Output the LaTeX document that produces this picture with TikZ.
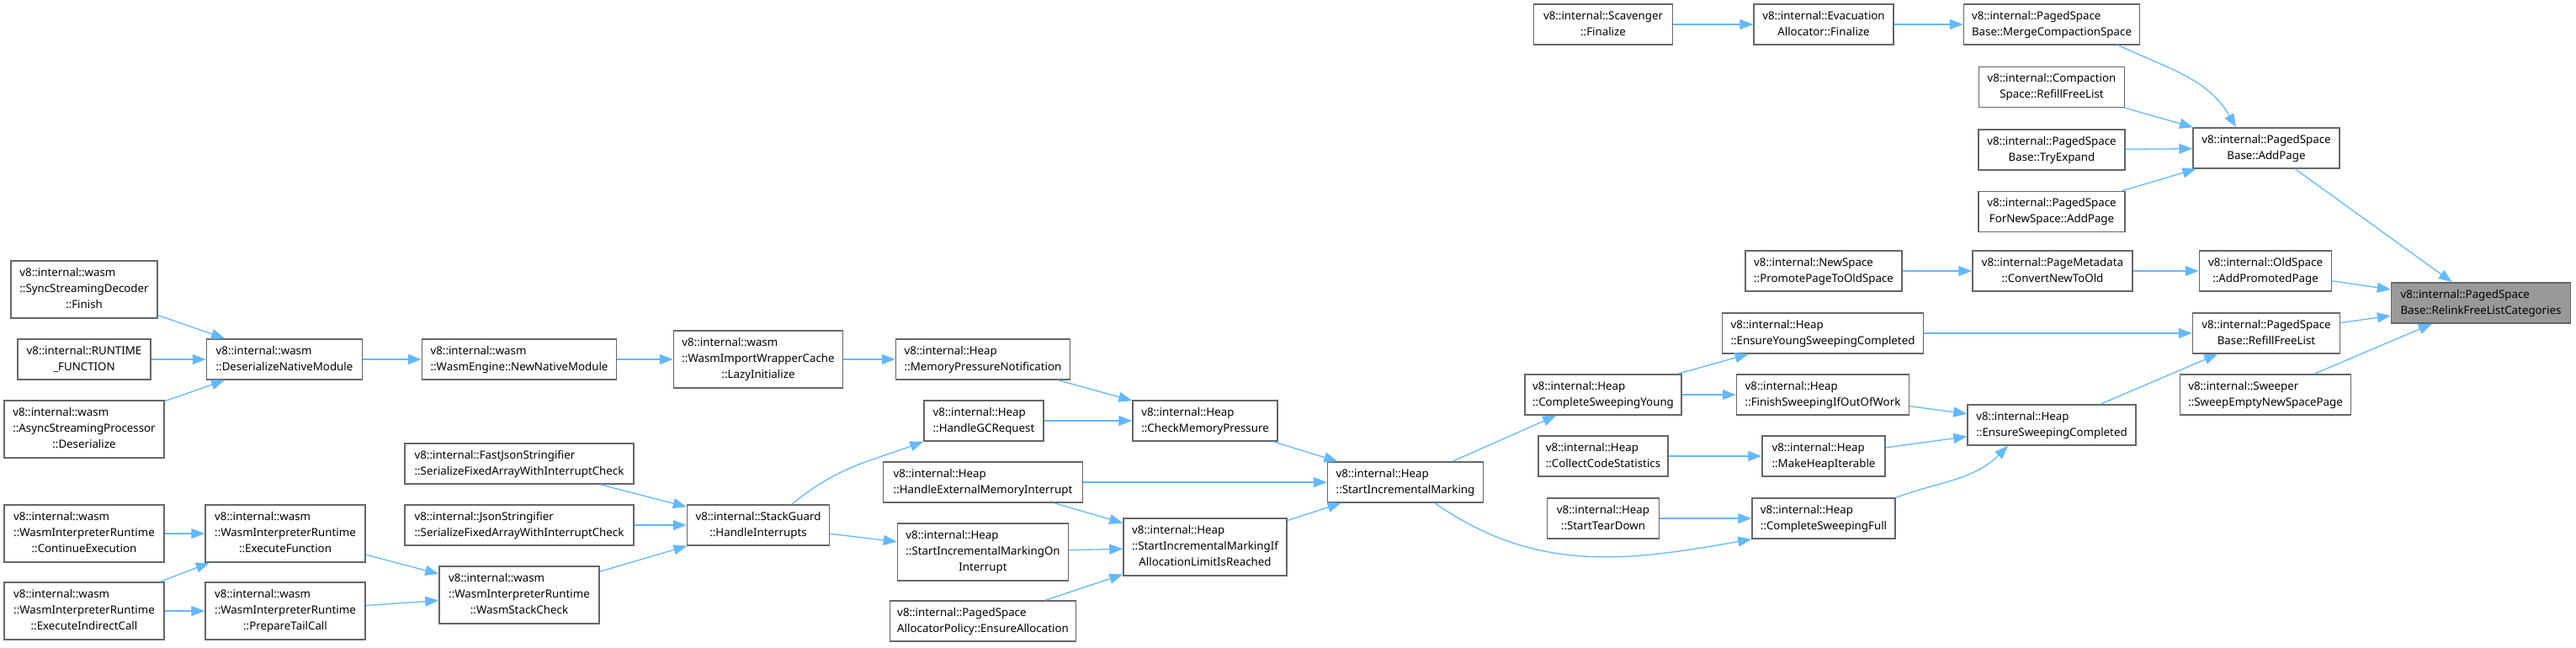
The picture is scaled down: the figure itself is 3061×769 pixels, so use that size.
\documentclass[tikz,border=0pt]{standalone}
\usepackage{fontspec}
\setmainfont{Noto Sans}
\usetikzlibrary{arrows.meta,positioning}
\definecolor{edgeblue}{HTML}{63B8FF}
\definecolor{boxgray}{HTML}{666666}
\definecolor{targetgray}{HTML}{999999}
\newcommand{\fnlines}[2]{\begin{tabular}{@{}l@{}}#1\\\multicolumn{1}{@{}c@{}}{#2}\end{tabular}}

\begin{document}
\begin{tikzpicture}[x=1pt, y=-1pt,
    box/.style={draw=boxgray, line width=1.5pt, fill=white, inner sep=3pt, font=\fontsize{13.3}{19}\selectfont, minimum height=48pt},
    func/.style={box, minimum width=#1},
    tall/.style={minimum height=68pt},
    target/.style={fill=targetgray},
    arrow/.style={-{Triangle[length=16pt,width=12pt]}, draw=edgeblue, line width=1.3pt}
  ]
    \useasboundingbox (0,0) rectangle (3061,769);
    % wasm callers
    \node[func=174, tall] (syncFinish) at (100,344) {\fnlines{v8::internal::wasm\\::SyncStreamingDecoder}{::Finish}};
    \node[func=158] (runtimeFunction) at (100,427) {\fnlines{v8::internal::RUNTIME}{\_FUNCTION}};
    \node[func=190, tall] (asyncDeserialize) at (100,510) {\fnlines{v8::internal::wasm\\::AsyncStreamingProcessor}{::Deserialize}};
    \node[func=185] (deserializeModule) at (338,427) {\fnlines{v8::internal::wasm}{::DeserializeNativeModule}};
    \node[func=231] (newNativeModule) at (617,427) {\fnlines{v8::internal::wasm}{::WasmEngine::NewNativeModule}};
    \node[func=201, tall] (lazyInitialize) at (901,427) {\fnlines{v8::internal::wasm\\::WasmImportWrapperCache}{::LazyInitialize}};
    \node[func=272] (fastJson) at (617,551) {\fnlines{v8::internal::FastJsonStringifier}{::SerializeFixedArrayWithInterruptCheck}};
    \node[func=272] (json) at (617,624) {\fnlines{v8::internal::JsonStringifier}{::SerializeFixedArrayWithInterruptCheck}};
    \node[func=169] (handleInterrupts) at (901,624) {\fnlines{v8::internal::StackGuard}{::HandleInterrupts}};
    \node[func=190, tall] (continueExecution) at (100,634) {\fnlines{v8::internal::wasm\\::WasmInterpreterRuntime}{::ContinueExecution}};
    \node[func=190, tall] (executeFunction) at (339,634) {\fnlines{v8::internal::wasm\\::WasmInterpreterRuntime}{::ExecuteFunction}};
    \node[func=190, tall] (executeIndirect) at (100,726) {\fnlines{v8::internal::wasm\\::WasmInterpreterRuntime}{::ExecuteIndirectCall}};
    \node[func=190, tall] (prepareTailCall) at (339,726) {\fnlines{v8::internal::wasm\\::WasmInterpreterRuntime}{::PrepareTailCall}};
    \node[func=190, tall] (wasmStackCheck) at (617,707) {\fnlines{v8::internal::wasm\\::WasmInterpreterRuntime}{::WasmStackCheck}};
    % heap
    \node[func=207] (memoryPressure) at (1168,427) {\fnlines{v8::internal::Heap}{::MemoryPressureNotification}};
    \node[func=142] (handleGC) at (1169,500) {\fnlines{v8::internal::Heap}{::HandleGCRequest}};
    \node[func=172] (checkMemory) at (1432,500) {\fnlines{v8::internal::Heap}{::CheckMemoryPressure}};
    \node[func=237] (externalMemory) at (1168,573) {\fnlines{v8::internal::Heap}{::HandleExternalMemoryInterrupt}};
    \node[func=203, tall] (markingOnInterrupt) at (1168,656) {\fnlines{v8::internal::Heap\\::StartIncrementalMarkingOn}{Interrupt}};
    \node[func=194, tall] (markingIfLimit) at (1432,650) {\fnlines{v8::internal::Heap\\::StartIncrementalMarkingIf}{AllocationLimitIsReached}};
    \node[func=221] (ensureAllocation) at (1168,738) {\fnlines{v8::internal::PagedSpace}{AllocatorPolicy::EnsureAllocation}};
    \node[func=185] (startMarking) at (1670,573) {\fnlines{v8::internal::Heap}{::StartIncrementalMarking}};
    \node[func=186] (sweepingYoung) at (1905,469) {\fnlines{v8::internal::Heap}{::CompleteSweepingYoung}};
    \node[func=154] (codeStatistics) at (1905,542) {\fnlines{v8::internal::Heap}{::CollectCodeStatistics}};
    \node[func=133] (tearDown) at (1905,616) {\fnlines{v8::internal::Heap}{::StartTearDown}};
    \node[func=239] (ensureYoung) at (2166,396) {\fnlines{v8::internal::Heap}{::EnsureYoungSweepingCompleted}};
    \node[func=205] (finishSweeping) at (2166,469) {\fnlines{v8::internal::Heap}{::FinishSweepingIfOutOfWork}};
    \node[func=146] (heapIterable) at (2167,542) {\fnlines{v8::internal::Heap}{::MakeHeapIterable}};
    \node[func=170] (sweepingFull) at (2167,616) {\fnlines{v8::internal::Heap}{::CompleteSweepingFull}};
    \node[func=200] (ensureSweeping) at (2438,505) {\fnlines{v8::internal::Heap}{::EnsureSweepingCompleted}};
    % paged space
    \node[func=186] (promotePage) at (2167,322) {\fnlines{v8::internal::NewSpace}{::PromotePageToOldSpace}};
    \node[func=190] (convertNewToOld) at (2439,322) {\fnlines{v8::internal::PageMetadata}{::ConvertNewToOld}};
    \node[func=157] (addPromoted) at (2692,322) {\fnlines{v8::internal::OldSpace}{::AddPromotedPage}};
    \node[func=175] (refillFreeList) at (2693,396) {\fnlines{v8::internal::PagedSpace}{Base::RefillFreeList}};
    \node[func=203] (sweepEmpty) at (2692,469) {\fnlines{v8::internal::Sweeper}{::SweepEmptyNewSpacePage}};
    \node[func=213, target] (relink) at (2948,360) {\fnlines{v8::internal::PagedSpace}{Base::RelinkFreeListCategories}};
    \node[func=165] (scavengerFinalize) at (1905,29) {\fnlines{v8::internal::Scavenger}{::Finalize}};
    \node[func=166] (evacuationFinalize) at (2167,29) {\fnlines{v8::internal::Evacuation}{Allocator::Finalize}};
    \node[func=209] (mergeCompaction) at (2438,29) {\fnlines{v8::internal::PagedSpace}{Base::MergeCompactionSpace}};
    \node[func=173, below=25pt of mergeCompaction] (compactionRefill) {\fnlines{v8::internal::Compaction}{Space::RefillFreeList}};
    \node[func=174, below=25pt of compactionRefill] (tryExpand) {\fnlines{v8::internal::PagedSpace}{Base::TryExpand}};
    \node[func=174, below=24pt of tryExpand] (newSpaceAddPage) {\fnlines{v8::internal::PagedSpace}{ForNewSpace::AddPage}};
    \node[func=174] (addPage) at (2693,176) {\fnlines{v8::internal::PagedSpace}{Base::AddPage}};
    % calls
    \draw[arrow] (syncFinish) -- (deserializeModule);
    \draw[arrow] (runtimeFunction) -- (deserializeModule);
    \draw[arrow] (asyncDeserialize) -- (deserializeModule);
    \draw[arrow] (deserializeModule) -- (newNativeModule);
    \draw[arrow] (newNativeModule) -- (lazyInitialize);
    \draw[arrow] (lazyInitialize) -- (memoryPressure);
    \draw[arrow] (memoryPressure) -- (checkMemory);
    \draw[arrow] (handleGC) -- (checkMemory);
    \draw[arrow] (checkMemory) -- (startMarking);
    \draw[arrow] (externalMemory) -- (startMarking);
    \draw[arrow] (externalMemory) -- (markingIfLimit);
    \draw[arrow] (markingOnInterrupt) -- (markingIfLimit);
    \draw[arrow] (ensureAllocation) -- (markingIfLimit);
    \draw[arrow] (markingIfLimit) -- (startMarking);
    \draw[arrow] ([xshift=40]handleInterrupts.north) to[out=40, in=200] (handleGC.south west);
    \draw[arrow] (handleInterrupts) -- (markingOnInterrupt);
    \draw[arrow] (fastJson) -- (handleInterrupts);
    \draw[arrow] (json) -- (handleInterrupts);
    \draw[arrow] (wasmStackCheck) -- (handleInterrupts);
    \draw[arrow] (continueExecution) -- (executeFunction);
    \draw[arrow] (executeIndirect) -- (executeFunction);
    \draw[arrow] (executeIndirect) -- (prepareTailCall);
    \draw[arrow] (executeFunction) -- (wasmStackCheck);
    \draw[arrow] (prepareTailCall) -- (wasmStackCheck);
    \draw[arrow] (startMarking) -- (sweepingYoung);
    \draw[arrow] ([xshift=35]startMarking.south) to[out=-35, in=190] (sweepingFull.south west);
    \draw[arrow] (sweepingYoung) -- (ensureYoung);
    \draw[arrow] (sweepingYoung) -- (finishSweeping);
    \draw[arrow] (codeStatistics) -- (heapIterable);
    \draw[arrow] (tearDown) -- (sweepingFull);
    \draw[arrow] (finishSweeping) -- (ensureSweeping);
    \draw[arrow] (heapIterable) -- (ensureSweeping);
    \draw[arrow] (sweepingFull.north east) to[out=20, in=225] ([xshift=-52]ensureSweeping.south);
    \draw[arrow] (ensureYoung) -- (refillFreeList);
    \draw[arrow] (ensureSweeping) -- (refillFreeList);
    \draw[arrow] (refillFreeList) -- (relink);
    \draw[arrow] (promotePage) -- (convertNewToOld);
    \draw[arrow] (convertNewToOld) -- (addPromoted);
    \draw[arrow] (addPromoted) -- (relink);
    \draw[arrow] (sweepEmpty) -- (relink);
    \draw[arrow] (addPage) -- (relink);
    \draw[arrow] (scavengerFinalize) -- (evacuationFinalize);
    \draw[arrow] (evacuationFinalize) -- (mergeCompaction);
    \draw[arrow] ([xshift=79]mergeCompaction.south) to[out=-25, in=120] ([xshift=-36]addPage.north);
    \draw[arrow] (compactionRefill) -- (addPage);
    \draw[arrow] (tryExpand) -- (addPage);
    \draw[arrow] (newSpaceAddPage) -- (addPage);
\end{tikzpicture}
\end{document}
